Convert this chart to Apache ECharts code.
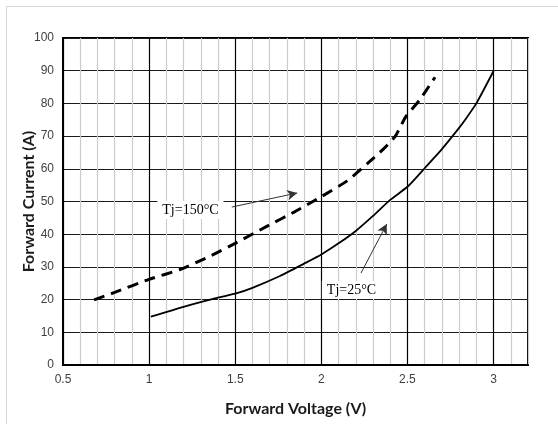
<!DOCTYPE html>
<html>
<head>
<meta charset="utf-8">
<script src="https://cdn.jsdelivr.net/npm/echarts@6/dist/echarts.min.js"></script>
<style>
html,body{margin:0;padding:0;background:#fff;}
#frame{position:absolute;left:6px;top:6px;width:700px;height:600px;border-top:1px solid #d9d9d9;border-left:1px solid #d9d9d9;}
#chart{position:absolute;left:0;top:0;width:558px;height:424px;}
</style>
</head>
<body>
<div id="frame"></div>
<div id="chart"></div>
<script>
// Tj = 150°C (dashed)
const hotV = [0.68, 0.8, 1.0, 1.18, 1.35, 1.5, 1.68, 1.85, 2.0, 2.15, 2.27, 2.36, 2.43, 2.49, 2.57, 2.66];
const hotI = [19.9, 22.2, 26.2, 29.2, 33.2, 37.2, 42.3, 47.0, 51.5, 56.3, 61.7, 66.0, 70.0, 75.9, 81.0, 88.0];
// Tj = 25°C (solid)
const coldV = [1.01, 1.2, 1.4, 1.5, 1.6, 1.76, 1.9, 2.0, 2.1, 2.2, 2.3, 2.4, 2.5, 2.59, 2.7, 2.8, 2.83, 2.9, 3.0];
const coldI = [14.8, 17.8, 20.6, 21.8, 23.6, 27.2, 31.0, 33.8, 37.2, 41.0, 45.6, 50.5, 54.5, 59.6, 66.0, 72.5, 74.6, 80.0, 89.9];

const xTickLabels = ['0.5', '1', '1.5', '2', '2.5', '3'];
const yTickLabels = ['0', '10', '20', '30', '40', '50', '60', '70', '80', '90', '100'];

const annHot = {text: 'Tj=150°C', at: [1.24, 47.4], from: [1.48, 48.3], to: [1.86, 52.6]};
const annCold = {text: 'Tj=25°C', at: [2.175, 22.9], from: [2.23, 28.1], to: [2.38, 43.1]};

const pair = (xs, ys) => xs.map((x, i) => [x, ys[i]]);

const chart = echarts.init(document.getElementById('chart'), null, {renderer: 'canvas'});

const annLabel = {
  show: true,
  fontFamily: 'Liberation Serif',
  fontSize: 14,
  color: '#000',
  backgroundColor: '#fff',
  padding: [2, 5, 2, 5]
};

chart.setOption({
  animation: false,
  backgroundColor: 'transparent',
  grid: {left: 63, right: 30, top: 38, bottom: 59, show: true, borderColor: '#000', borderWidth: 2, containLabel: false},
  xAxis: {
    type: 'value', min: 0.5, max: 3.2, interval: 0.1,
    name: 'Forward Voltage (V)', nameLocation: 'middle', nameGap: 36, nameMoveOverlap: false,
    nameTextStyle: {fontFamily: 'Lato', fontWeight: 'bold', fontSize: 16, color: '#1a1a1a'},
    axisLine: {show: true, lineStyle: {color: '#000', width: 2}},
    axisTick: {show: false},
    axisLabel: {
      fontFamily: 'Liberation Sans', fontSize: 12, color: '#404040', margin: 9,
      formatter: v => { const s = String(Math.round(v * 10) / 10); return xTickLabels.indexOf(s) >= 0 ? s : ''; }
    },
    splitLine: {show: true, lineStyle: {color: ['#000', '#cccccc', '#cccccc', '#cccccc', '#cccccc'], width: 1.2}}
  },
  yAxis: {
    type: 'value', min: 0, max: 100, interval: 10,
    name: 'Forward Current (A)', nameLocation: 'middle', nameGap: 26, nameMoveOverlap: false,
    nameTextStyle: {fontFamily: 'Lato', fontWeight: 'bold', fontSize: 16, color: '#1a1a1a'},
    axisLine: {show: true, lineStyle: {color: '#000', width: 2}},
    axisTick: {show: false},
    axisLabel: {
      fontFamily: 'Liberation Sans', fontSize: 12, color: '#404040', margin: 9,
      formatter: v => { const s = String(Math.round(v)); return yTickLabels.indexOf(s) >= 0 ? s : ''; }
    },
    splitLine: {show: true, lineStyle: {color: '#1a1a1a', width: 1.2}}
  },
  series: [
    {
      type: 'line', data: pair(hotV, hotI), showSymbol: false, smooth: 0.2,
      lineStyle: {color: '#000', width: 3, type: [11, 7]},
      z: 5,
      markLine: {
        silent: true, symbol: ['none', 'arrow'], symbolSize: [8, 10],
        label: {show: false},
        lineStyle: {color: '#333', width: 1, type: 'solid'},
        data: [[{coord: annHot.from}, {coord: annHot.to}]]
      },
      markPoint: {
        silent: true, symbol: 'circle', symbolSize: 0,
        label: annLabel,
        data: [{coord: annHot.at, value: annHot.text, label: {formatter: annHot.text}}]
      }
    },
    {
      type: 'line', data: pair(coldV, coldI), showSymbol: false, smooth: 0.2,
      lineStyle: {color: '#000', width: 1.8},
      z: 5,
      markLine: {
        silent: true, symbol: ['none', 'arrow'], symbolSize: [8, 10],
        label: {show: false},
        lineStyle: {color: '#333', width: 1, type: 'solid'},
        data: [[{coord: annCold.from}, {coord: annCold.to}]]
      },
      markPoint: {
        silent: true, symbol: 'circle', symbolSize: 0,
        label: annLabel,
        data: [{coord: annCold.at, value: annCold.text, label: {formatter: annCold.text}}]
      }
    }
  ]
});
</script>
</body>
</html>
